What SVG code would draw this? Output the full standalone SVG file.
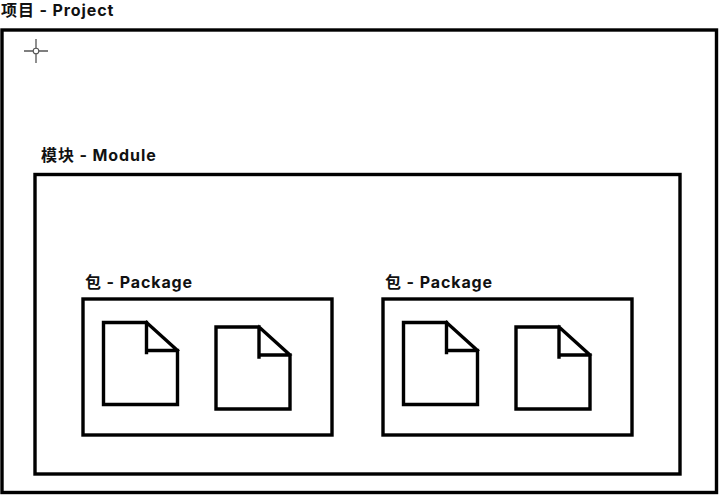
<svg xmlns="http://www.w3.org/2000/svg" width="722" height="498" viewBox="0 0 722 498">
<defs>
<style>
.box{fill:none;stroke:#000;stroke-width:3.400}
.doc{fill:none;stroke:#000;stroke-width:3.400;stroke-linecap:square;stroke-linejoin:miter}
.label{font-family:"Inter","Noto Sans CJK SC",sans-serif;font-weight:700;font-size:16px;letter-spacing:.9px;word-spacing:0;fill:#111}
.cross{fill:none;stroke:#555;stroke-width:1.300}
</style>
<g id="file"><path class="doc" d="M43 0H0V82H74V28M43 0L74 28M43 0V30M43 28H74"/></g>
</defs>
<rect width="722" height="498" fill="#fff"/>
<g id="project">
<rect class="box" x="2" y="30" width="714.500" height="462.500"/>
<text class="label" x="1" y="16">项目 - Project</text>
<g id="cursor"><path class="cross" d="M36 39V63M24 51H48"/><circle cx="36" cy="51" r="2.800" fill="#fff" stroke="#555" stroke-width="1.100"/></g>
</g>
<g id="module">
<rect class="box" x="35" y="174.500" width="645" height="299.500"/>
<text class="label" x="41" y="161">模块 - Module</text>
</g>
<g id="package-1">
<rect class="box" x="83" y="299" width="249" height="136"/>
<text class="label" x="85" y="288">包 - Package</text>
<use id="file-1" href="#file" x="103.500" y="322.500"/>
<use id="file-2" href="#file" x="216" y="327"/>
</g>
<g id="package-2">
<rect class="box" x="383" y="299" width="249" height="136"/>
<text class="label" x="385" y="288">包 - Package</text>
<use id="file-3" href="#file" x="403.500" y="322.500"/>
<use id="file-4" href="#file" x="516" y="327"/>
</g>
</svg>
